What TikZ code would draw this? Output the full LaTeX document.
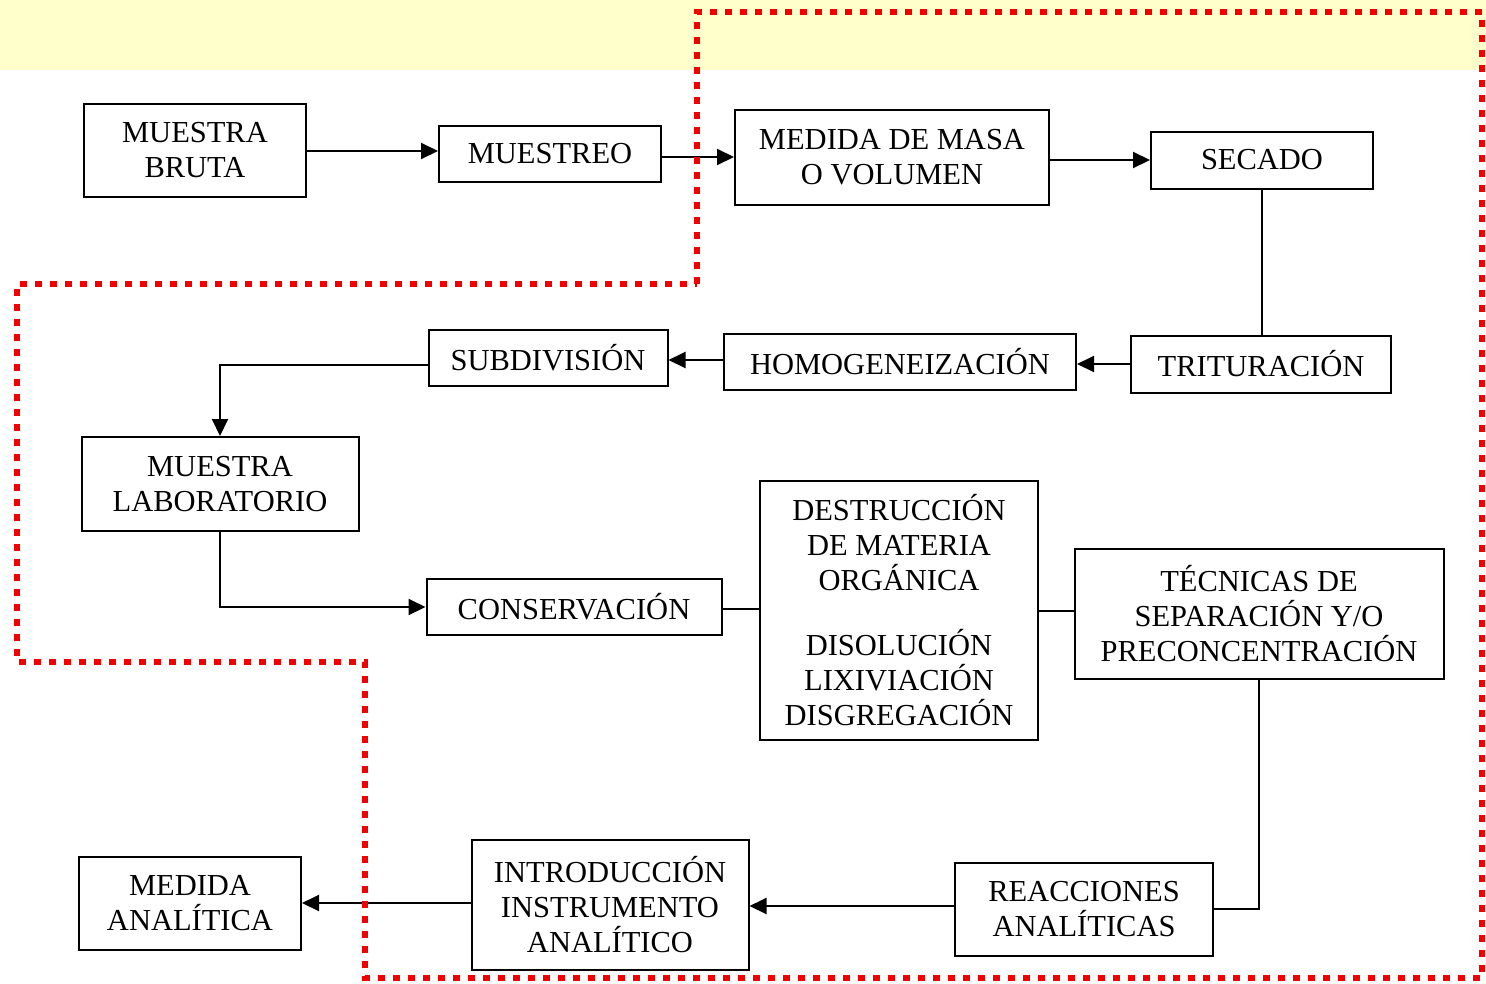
\documentclass[tikz,border=0pt]{standalone}
\usepackage{fontspec}
\setmainfont{Liberation Serif}
\usetikzlibrary{arrows.meta}
\definecolor{bandyellow}{RGB}{255,255,204}
\definecolor{dotred}{RGB}{240,0,0}
\begin{document}
\begin{tikzpicture}[x=1pt,y=-1pt,
  box/.style={draw=black,line width=2pt,inner sep=0pt,align=center,
    font=\fontsize{30.5}{35}\selectfont},
  link/.style={draw=black,line width=2pt},
  arr/.style={link,-{Triangle[length=17pt,width=16pt]}},
  redline/.style={draw=dotred,line width=6pt,dash pattern=on 7pt off 8pt}]
\useasboundingbox (0,0) rectangle (1486,983);
\fill[white] (0,0) rectangle (1486,983);
\fill[bandyellow] (0,0) rectangle (1486,70);

% boxes
\node[box,minimum width=222pt,minimum height=93pt] (bruta) at (195,150) {MUESTRA\\BRUTA};
\node[box,minimum width=222pt,minimum height=56pt] (muestreo) at (550,154) {MUESTREO};
\node[box,minimum width=314pt,minimum height=95pt] (masa) at (892,157) {MEDIDA DE MASA\\O VOLUMEN};
\node[box,minimum width=222pt,minimum height=57pt] (secado) at (1262,160) {SECADO};
\node[box,minimum width=260pt,minimum height=57pt] (trit) at (1261,364) {TRITURACIÓN};
\node[box,minimum width=352pt,minimum height=56pt] (homog) at (900,362) {HOMOGENEIZACIÓN};
\node[box,minimum width=239pt,minimum height=56pt] (subdiv) at (548,358) {SUBDIVISIÓN};
\node[box,minimum width=277pt,minimum height=94pt] (lab) at (220,484) {MUESTRA\\LABORATORIO};
\node[box,minimum width=295pt,minimum height=56pt] (cons) at (574,607) {CONSERVACIÓN};
\node[box,minimum width=278pt,minimum height=259pt] (destr) at (899,610) {DESTRUCCIÓN\\DE MATERIA\\ORGÁNICA\\[30pt]DISOLUCIÓN\\LIXIVIACIÓN\\DISGREGACIÓN};
\node[box,minimum width=369pt,minimum height=130pt] (tec) at (1259,614) {TÉCNICAS DE\\SEPARACIÓN Y/O\\PRECONCENTRACIÓN};
\node[box,minimum width=258pt,minimum height=93pt] (reac) at (1084,909) {REACCIONES\\ANALÍTICAS};
\node[box,minimum width=277pt,minimum height=130pt] (intro) at (610,905) {INTRODUCCIÓN\\INSTRUMENTO\\ANALÍTICO};
\node[box,minimum width=222pt,minimum height=93pt] (medida) at (190,903) {MEDIDA\\ANALÍTICA};

% connectors
\draw[arr] ([yshift=-1pt]bruta.east) -- ([yshift=-1pt]bruta.east -| muestreo.west);
\draw[arr] (muestreo.east |- masa.west) -- (masa.west);
\draw[arr] (masa.east |- secado.west) -- (secado.west);
\draw[link] (secado.south) -- (secado.south |- trit.north);
\draw[arr] (trit.west) -- (trit.west -| homog.east);
\draw[arr] ([yshift=2pt]homog.west) -- ([yshift=2pt]homog.west -| subdiv.east);
\draw[arr] ([yshift=-7pt]subdiv.west) -| (lab.north);
\draw[arr] (lab.south) |- (cons.west);
\draw[link] ([yshift=-2pt]cons.east) -- ([yshift=-2pt]cons.east -| destr.west);
\draw[link] ([yshift=-1pt]destr.east) -- ([yshift=-1pt]destr.east -| tec.west);
\draw[link] (tec.south) |- (reac.east);
\draw[arr] ([yshift=3pt]reac.west) -- ([yshift=3pt]reac.west -| intro.east);
\draw[arr] ([yshift=2pt]intro.west) -- ([yshift=2pt]intro.west -| medida.east);

% red dotted outline
\draw[redline] (697,284) -- (697,12) -- (1482,12) -- (1482,978) -- (365,978) -- (365,662) -- (17,662) -- (17,284) -- cycle;
\end{tikzpicture}
\end{document}
